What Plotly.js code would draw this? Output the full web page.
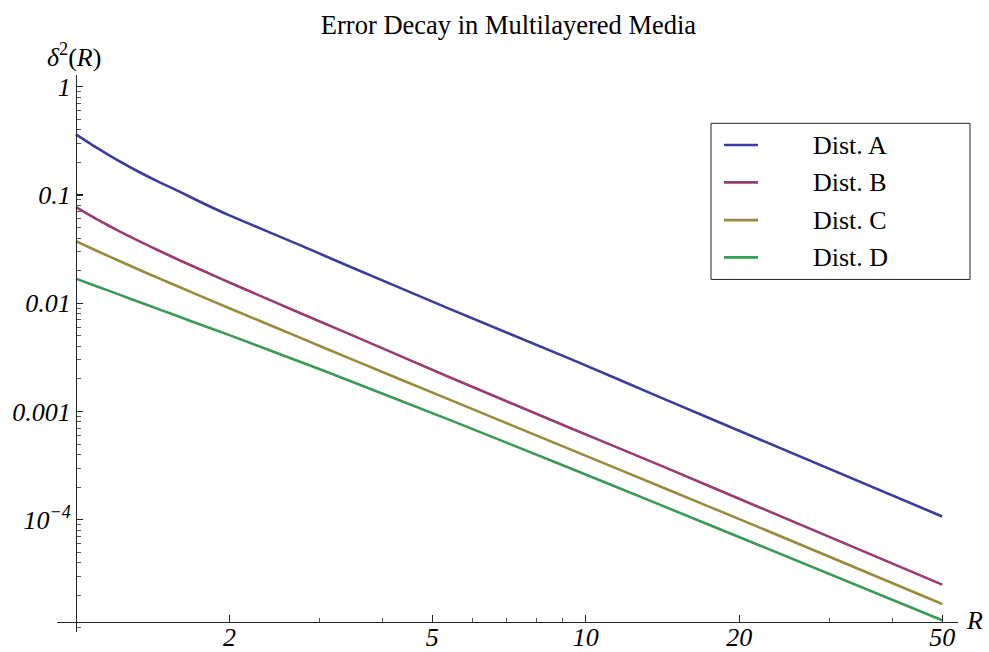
<!DOCTYPE html>
<html>
<head>
<meta charset="utf-8">
<script src="https://cdn.plot.ly/plotly-3.0.1.min.js"></script>
<style>html,body{margin:0;padding:0;background:#fff;}#chart{width:989px;height:652px;}</style>
</head>
<body>
<div id="chart"></div>
<script>
// ---- data ----
const R = [1, 1.1, 1.22, 1.33, 1.46, 1.6, 1.78, 2.0, 2.75, 3.45, 5.42, 9.32, 14.0, 22.0, 50];
const distA = [0.3631, 0.2716, 0.2037, 0.1629, 0.1306, 0.1067, 0.08337, 0.06471, 0.03443, 0.02173, 0.00881, 0.003062, 0.001349, 0.0005483, 0.0001072];
const distB = [0.07709, 0.05943, 0.04592, 0.03741, 0.03034, 0.02483, 0.01982, 0.01552, 0.008128, 0.005152, 0.002061, 0.0007031, 0.0003177, 0.0001291, 0.00002518];
const distC = [0.03741, 0.03034, 0.02438, 0.02037, 0.01687, 0.01403, 0.01132, 0.008995, 0.004808, 0.003076, 0.00128, 0.0004467, 0.0002028, 0.00008414, 0.00001667];
const distD = [0.01687, 0.01429, 0.01194, 0.01026, 0.00873, 0.007447, 0.006194, 0.00507, 0.002884, 0.001914, 0.0008318, 0.0002985, 0.0001371, 0.00005754, 0.00001178];
const seriesNames = ["Dist. A", "Dist. B", "Dist. C", "Dist. D"];

const xMajorVals = [2, 5, 10, 20, 50];
const xMajorText = ["2", "5", "10", "20", "50"];
const xMinorVals = [3, 4, 6, 7, 8, 9, 30, 40];
const yMajorVals = [1, 0.1, 0.01, 0.001, 0.0001];
const yMajorText = ["1", "0.1", "0.01", "0.001", "10<sup>−4</sup>"];
const yMinorVals = [0.00001];
[1e-5, 1e-4, 1e-3, 1e-2, 1e-1].forEach(d => { for (let k = 2; k <= 9; k++) yMinorVals.push(+(d * k).toPrecision(3)); });

// ---- styles ----
const colors = ["#3d3d99", "#993d71", "#998b3d", "#3d9956"];
const FONT = "Liberation Serif, Times New Roman, serif";
const FS = 26;
const axisColor = "#222";

const series = [distA, distB, distC, distD];
const traces = series.map((ys, i) => ({
  x: R, y: ys, name: seriesNames[i], type: "scatter", mode: "lines",
  line: {color: colors[i], width: 2.6, shape: "spline", smoothing: 0.4},
  xaxis: "x", yaxis: "y", showlegend: false, hoverinfo: "x+y+name"
}));
traces.push({x: [], y: [], xaxis: "x2", yaxis: "y2", showlegend: false, hoverinfo: "skip", type: "scatter", mode: "lines"});

const xRange = [Math.log10(0.918), Math.log10(53.7)];
const yRange = [-5.037, 0.108];
const PL = 57, PW = 901, PB = 631.7, PH = 556.7;
const px = X => (X - PL) / PW;
const py = Y => (PB - Y) / PH;
const xPos = py(621.7);
const yPos = px(76);

// legend drawn as a framed box with a short line and a label per series
const legendRows = [145, 182.3, 220, 257.3];
const legendShapes = [{type: "rect", xref: "paper", yref: "paper",
  x0: px(711), x1: px(970), y0: py(279.3), y1: py(123.3),
  line: {color: "#222", width: 1}, fillcolor: "rgba(0,0,0,0)", layer: "above"}];
const legendText = [];
seriesNames.forEach((n, i) => {
  legendShapes.push({type: "line", xref: "paper", yref: "paper",
    x0: px(724), x1: px(758), y0: py(legendRows[i]), y1: py(legendRows[i]),
    line: {color: colors[i], width: 2.6}});
  legendText.push({text: n, xref: "paper", yref: "paper", x: px(811), y: py(legendRows[i]),
    xanchor: "left", yanchor: "middle", showarrow: false,
    font: {family: FONT, size: FS, color: "#000"}});
});

const layout = {
  width: 989, height: 652,
  margin: {l: PL, r: 989 - PL - PW, t: 75, b: 652 - PB},
  paper_bgcolor: "#fff", plot_bgcolor: "#fff",
  font: {family: FONT, size: FS, color: "#000"},
  title: {text: "Error Decay in Multilayered Media", font: {family: FONT, size: 26.5, color: "#000"},
          x: px(508.5), xanchor: "center", xref: "paper", y: 1 - 25 / 652, yref: "container", yanchor: "middle"},
  showlegend: false,
  xaxis: {
    type: "log", range: xRange, anchor: "free", position: xPos,
    showline: true, linecolor: axisColor, linewidth: 1.3,
    ticks: "inside", ticklen: 7, tickcolor: axisColor, tickwidth: 1.2,
    tickmode: "array", tickvals: xMajorVals, ticktext: xMajorText, ticklabelstandoff: -8,
    tickfont: {family: FONT, size: FS, style: "italic", color: "#000"},
    showgrid: false, zeroline: false, fixedrange: true
  },
  yaxis: {
    type: "log", range: yRange, anchor: "free", position: yPos, side: "left",
    showline: true, linecolor: axisColor, linewidth: 1.3,
    ticks: "inside", ticklen: 6, tickcolor: axisColor, tickwidth: 1.2,
    tickmode: "array", tickvals: yMajorVals, ticktext: yMajorText,
    tickfont: {family: FONT, size: FS, style: "italic", color: "#000"},
    showgrid: false, zeroline: false, fixedrange: true
  },
  xaxis2: {
    type: "log", range: xRange, overlaying: "x", anchor: "free", position: xPos,
    showline: false, ticks: "inside", ticklen: 4, tickcolor: "#555", tickwidth: 1,
    tickmode: "array", tickvals: xMinorVals, showticklabels: false,
    showgrid: false, zeroline: false, fixedrange: true
  },
  yaxis2: {
    type: "log", range: yRange, overlaying: "y", anchor: "free", position: yPos, side: "left",
    showline: false, ticks: "inside", ticklen: 4, tickcolor: "#555", tickwidth: 1,
    tickmode: "array", tickvals: yMinorVals, showticklabels: false,
    showgrid: false, zeroline: false, fixedrange: true
  },
  shapes: legendShapes,
  annotations: [
    {text: "<i>δ</i><sup>2</sup>(<i>R</i>)", xref: "paper", yref: "paper",
     x: px(74), y: py(56), xanchor: "center", yanchor: "middle",
     showarrow: false, font: {family: FONT, size: FS, color: "#000"}},
    {text: "<i>R</i>", xref: "paper", yref: "paper",
     x: px(974), y: py(620), xanchor: "center", yanchor: "middle",
     showarrow: false, font: {family: FONT, size: FS, color: "#000"}}
  ].concat(legendText)
};

Plotly.newPlot("chart", traces, layout, {displayModeBar: false, staticPlot: true});
</script>
</body>
</html>
